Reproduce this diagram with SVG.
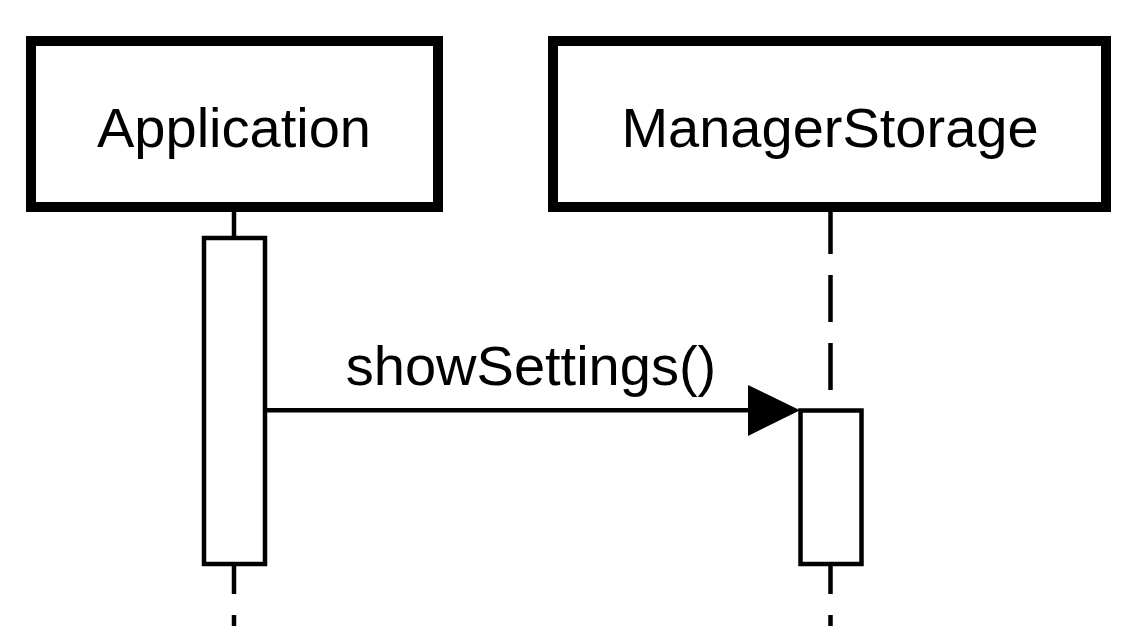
<svg xmlns="http://www.w3.org/2000/svg" width="1136" height="626" viewBox="0 0 1136 626">
<style>
.head{fill:#fff;stroke:#000;stroke-width:10}
.life{stroke:#000;stroke-width:4.5;stroke-dasharray:47 21;fill:none}
.act{fill:#fff;stroke:#000;stroke-width:4.5}
.lbl{font-family:"Liberation Sans",Arial,sans-serif;font-size:56px;fill:#000;text-anchor:middle}
.msg{stroke:#000;stroke-width:4.5;fill:none}
</style>
<rect width="1136" height="626" fill="#fff"/>
<g id="lifelines">
<line class="life" x1="234" y1="207" x2="234" y2="640"/>
<line class="life" x1="830.5" y1="207" x2="830.5" y2="640"/>
</g>
<g id="application">
<rect class="head" x="31" y="41" width="407" height="166"/>
<text class="lbl" x="234" y="147">Application</text>
</g>
<g id="managerstorage">
<rect class="head" x="553" y="41" width="553" height="166"/>
<text class="lbl" x="830" y="147">ManagerStorage</text>
</g>
<g id="activation-application">
<rect class="act" x="204" y="238" width="61" height="326"/>
</g>
<g id="activation-managerstorage">
<rect class="act" x="800.5" y="410.5" width="61" height="153.5"/>
</g>
<g id="connectors">
<line class="msg" x1="265" y1="410.3" x2="752" y2="410.3"/>
<polygon points="748,385 748,436 800,410.3" fill="#000"/>
<text class="lbl" x="531" y="385">showSettings()</text>
</g>
</svg>
